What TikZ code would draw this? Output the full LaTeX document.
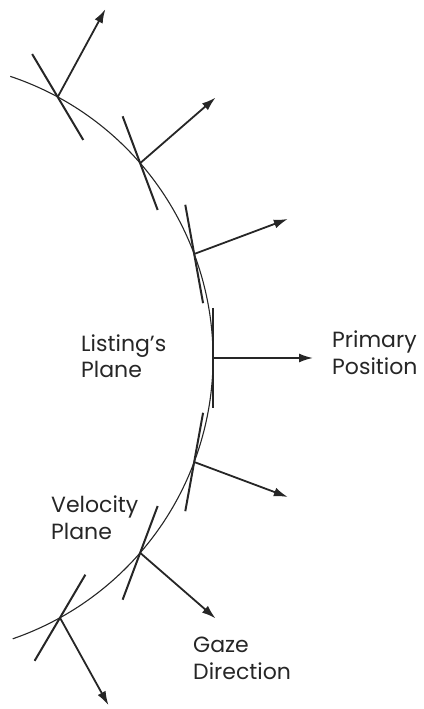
\documentclass[tikz,border=0pt]{standalone}
\usepackage{fontspec}
\setmainfont{Poppins}
\usetikzlibrary{calc,arrows.meta}
\begin{document}
\begin{tikzpicture}[x=1pt,y=1pt,
  arcline/.style={line width=1.1pt,black!85},
  planeline/.style={line width=2pt,black!85},
  gaze/.style={line width=1.8pt,black!85,-{Latex[length=14pt,width=9pt]}},
  lbl/.style={inner sep=0pt,anchor=base west,font=\fontsize{22}{26}\selectfont,text=black!85}]
\useasboundingbox (0,0) rectangle (423,709);
\coordinate (C) at (-84,351);
\draw[arcline] ([shift={(71.5:297)}]C) arc[start angle=71.5,end angle=-71,radius=297];
\foreach \i/\a in {1/61.5,2/41,3/20.5,4/0,5/-20.5,6/-41,7/-61}{
  \coordinate (p\i) at ($(C)+(\a:297)$);
  \coordinate (pa\i) at ($(p\i)+({\a/2+90}:50)$);
  \coordinate (pb\i) at ($(p\i)+({\a/2-90}:50)$);
  \coordinate (g\i) at ($(p\i)+(\a:100)$);
  \draw[planeline] (pa\i) -- (pb\i);
  \draw[gaze] (p\i) -- (g\i);
}
\node[lbl] (l1) at (81,357) {Listing’s};
\node[lbl] (l2) at (81,331) {Plane};
\node[lbl] (r1) at (332,361) {Primary};
\node[lbl] (r2) at (332,334) {Position};
\node[lbl] (v1) at (51,196) {Velocity};
\node[lbl] (v2) at (51,169) {Plane};
\node[lbl] (d1) at (193,56) {Gaze};
\node[lbl] (d2) at (193,29) {Direction};
\end{tikzpicture}
\end{document}
